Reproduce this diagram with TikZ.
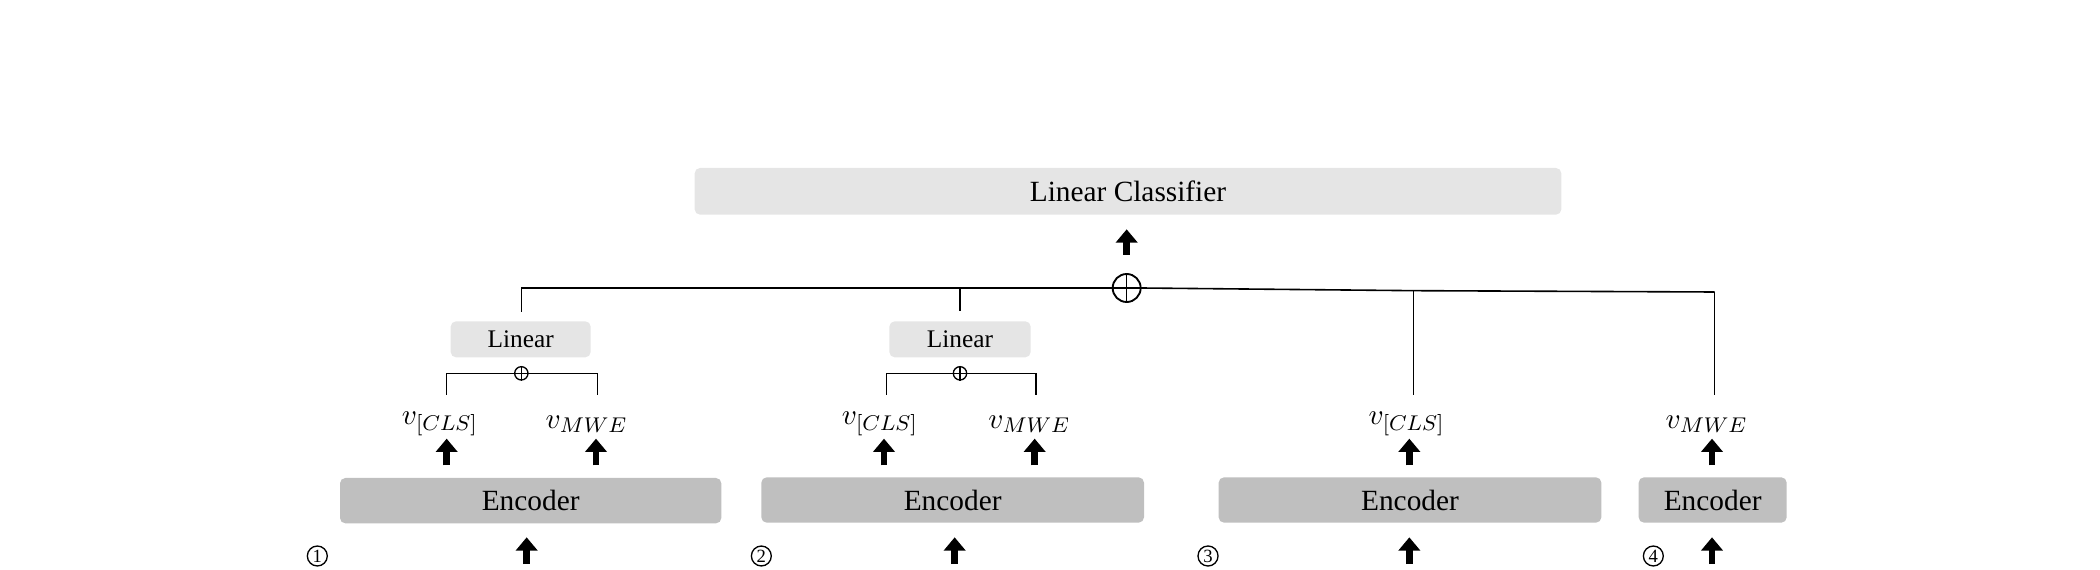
\documentclass[tikz,border=0pt]{standalone}
\usepackage{fontspec}
\setmainfont{Liberation Serif}
\usetikzlibrary{arrows.meta}
\begin{document}
\begin{tikzpicture}[x=0.5pt,y=-0.5pt,
  lbox/.style={fill=black!10,rounded corners=2pt,inner sep=0pt},
  ebox/.style={fill=black!25,rounded corners=2pt,inner sep=0pt},
  up/.style={line width=2.6pt,-{Triangle[length=5pt,width=8pt]}},
  ln/.style={line width=0.6pt},
  cn/.style={circle,draw,line width=0.5pt,inner sep=0.6pt,font=\fontsize{7}{7}\selectfont}]
\useasboundingbox (0,0) rectangle (1575,427);
% Linear classifier
\node[lbox,minimum width=325pt,minimum height=17.5pt,font=\fontsize{11}{11}\selectfont] (lc) at (846,143.5) {Linear Classifier};
\coordinate (a0s) at (845,191); \coordinate (a0e) at (845,172);
\draw[up] (a0s) -- (a0e);
\node[circle,draw,line width=0.7pt,minimum size=10.5pt,inner sep=0pt] (op) at (845,216) {};
\draw[line width=0.6pt] (op.north) -- (op.south) (op.west) -- (op.east);
% top bus
\coordinate (t1) at (391,216); \coordinate (t2) at (720,216); \coordinate (t3) at (1060,218); \coordinate (t4) at (1286,219);
\draw[ln] (t1) -- (op.west);
\draw[ln] (op.east) -- (t3) -- (t4);
% Linear boxes
\node[lbox,minimum width=52.5pt,minimum height=13.5pt,font=\fontsize{9.5}{9.5}\selectfont] (l1) at (390.5,254.5) {Linear};
\node[lbox,minimum width=53pt,minimum height=13.5pt,font=\fontsize{9.5}{9.5}\selectfont] (l2) at (720,254.5) {Linear};
\draw[ln] (t1) -- (391,234);
\draw[ln] (t2) -- (720,233);
\coordinate (b3) at (1060,296); \coordinate (b4) at (1286,296);
\draw[ln] (t3) -- (b3); \draw[ln] (t4) -- (b4);
% small brackets
\foreach \i/\c/\l/\r in {1/391/335/448, 2/720/665/777}{
  \node[circle,draw,line width=0.5pt,minimum size=5pt,inner sep=0pt] (s\i) at (\c,280) {};
  \draw[line width=0.4pt] (s\i.north) -- (s\i.south) (s\i.west) -- (s\i.east);
  \draw[ln] (s\i.west) -- (\l,280) -- (\l,296);
  \draw[ln] (s\i.east) -- (\r,280) -- (\r,296);
}
% labels
\tikzset{vl/.style={font=\fontsize{11}{11}\selectfont,inner sep=0pt}}
\node[vl] (v1) at (330,318) {$v_{[CLS]}$};
\node[vl] (v2) at (440,318) {$v_{MWE}$};
\node[vl] (v3) at (660,318) {$v_{[CLS]}$};
\node[vl] (v4) at (772,318) {$v_{MWE}$};
\node[vl] (v5) at (1055,318) {$v_{[CLS]}$};
\node[vl] (v6) at (1280,318) {$v_{MWE}$};
% encoders
\tikzset{ef/.style={ebox,minimum height=17pt,font=\fontsize{11}{11}\selectfont}}
\node[ef,minimum width=143pt] (e1) at (398,375.5) {Encoder};
\node[ef,minimum width=143.5pt] (e2) at (714.5,375) {Encoder};
\node[ef,minimum width=143.5pt] (e3) at (1057.5,375) {Encoder};
\node[ef,minimum width=55.5pt] (e4) at (1284.5,375) {Encoder};
% arrows encoder -> v
\foreach \x/\n in {335/1,447/2,663/3,776/4,1057/5,1284/6}{
  \coordinate (ps\n) at (\x,349); \coordinate (pe\n) at (\x,329);
  \draw[up] (ps\n) -- (pe\n);
}
\foreach \x/\n in {395/1,716/2,1057/3,1284/4}{
  \coordinate (qs\n) at (\x,423); \coordinate (qe\n) at (\x,403);
  \draw[up] (qs\n) -- (qe\n);
}
% circled numbers
\node[cn] (c1) at (238,417) {1};
\node[cn] (c2) at (571,417) {2};
\node[cn] (c3) at (906,417) {3};
\node[cn] (c4) at (1240,417) {4};
\end{tikzpicture}
\end{document}
